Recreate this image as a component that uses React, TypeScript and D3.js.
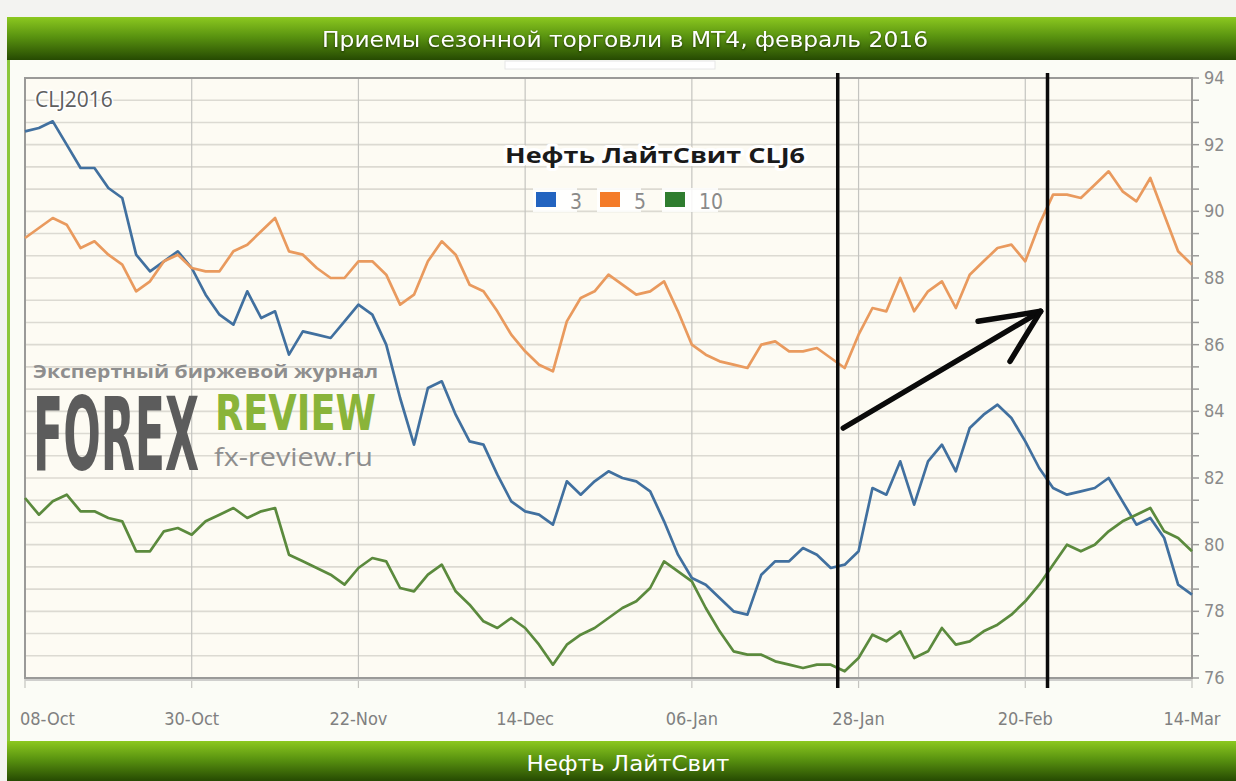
import React from 'react';
import * as d3 from 'd3';

// CLJ2016 seasonal pattern: 3, 5 and 10 year averages, one value per step
const xLabels = ['08-Oct', '30-Oct', '22-Nov', '14-Dec', '06-Jan', '28-Jan', '20-Feb', '14-Mar'];
const yTicks = [76, 78, 80, 82, 84, 86, 88, 90, 92, 94];
const seriesNames = ['3', '5', '10'];

const series3 = [
  92.4, 92.5, 92.7, 92.0, 91.3, 91.3, 90.7, 90.4, 88.7, 88.2, 88.5, 88.8,
  88.3, 87.5, 86.9, 86.6, 87.6, 86.8, 87.0, 85.7, 86.4, 86.3, 86.2, 86.7,
  87.2, 86.9, 86.0, 84.4, 83.0, 84.7, 84.9, 83.9, 83.1, 83.0, 82.1, 81.3,
  81.0, 80.9, 80.6, 81.9, 81.5, 81.9, 82.2, 82.0, 81.9, 81.6, 80.7, 79.7,
  79.0, 78.8, 78.4, 78.0, 77.9, 79.1, 79.5, 79.5, 79.9, 79.7, 79.3, 79.4,
  79.8, 81.7, 81.5, 82.5, 81.2, 82.5, 83.0, 82.2, 83.5, 83.9, 84.2, 83.8,
  83.1, 82.3, 81.7, 81.5, 81.6, 81.7, 82.0, 81.3, 80.6, 80.8, 80.2, 78.8,
  78.5,
];

const series5 = [
  89.2, 89.5, 89.8, 89.6, 88.9, 89.1, 88.7, 88.4, 87.6, 87.9, 88.5, 88.7,
  88.3, 88.2, 88.2, 88.8, 89.0, 89.4, 89.8, 88.8, 88.7, 88.3, 88.0, 88.0,
  88.5, 88.5, 88.1, 87.2, 87.5, 88.5, 89.1, 88.7, 87.8, 87.6, 87.0, 86.3,
  85.8, 85.4, 85.2, 86.7, 87.4, 87.6, 88.1, 87.8, 87.5, 87.6, 87.9, 87.0,
  86.0, 85.7, 85.5, 85.4, 85.3, 86.0, 86.1, 85.8, 85.8, 85.9, 85.6, 85.3,
  86.3, 87.1, 87.0, 88.0, 87.0, 87.6, 87.9, 87.1, 88.1, 88.5, 88.9, 89.0,
  88.5, 89.6, 90.5, 90.5, 90.4, 90.8, 91.2, 90.6, 90.3, 91.0, 89.9, 88.8,
  88.4,
];

const series10 = [
  81.4, 80.9, 81.3, 81.5, 81.0, 81.0, 80.8, 80.7, 79.8, 79.8, 80.4, 80.5,
  80.3, 80.7, 80.9, 81.1, 80.8, 81.0, 81.1, 79.7, 79.5, 79.3, 79.1, 78.8,
  79.3, 79.6, 79.5, 78.7, 78.6, 79.1, 79.4, 78.6, 78.2, 77.7, 77.5, 77.8,
  77.5, 77.0, 76.4, 77.0, 77.3, 77.5, 77.8, 78.1, 78.3, 78.7, 79.5, 79.2,
  78.9, 78.1, 77.4, 76.8, 76.7, 76.7, 76.5, 76.4, 76.3, 76.4, 76.4, 76.2,
  76.6, 77.3, 77.1, 77.4, 76.6, 76.8, 77.5, 77.0, 77.1, 77.4, 77.6, 77.9,
  78.3, 78.8, 79.4, 80.0, 79.8, 80.0, 80.4, 80.7, 80.9, 81.1, 80.4, 80.2,
  79.8,
];

// hand drawn marks, in data units (step index, price)
const markerSteps = [58.5, 73.6];
const markerSpan = [75.7, 94.15];
const arrowShaft = [[58.9, 83.5], [73.1, 87.0]];
const arrowHeadA = [[68.6, 86.7], [73.1, 87.0]];
const arrowHeadB = [[70.9, 85.5], [73.1, 87.0]];

const colors = ['#41709f', '#e99a5e', '#5b8a3d'];
const legendColors = ['#2364c0', '#f47c2a', '#2f7d2f'];

const W = 1236;
const H = 781;
const plot = { left: 25, right: 1192, top: 78, bottom: 678 };
const axisFont = "'DejaVu Sans Condensed', sans-serif";

const App = () => {
  const N = series3.length;
  const x = d3.scaleLinear().domain([0, N - 1]).range([plot.left, plot.right]);
  const y = d3.scaleLinear().domain([76, 94]).range([plot.bottom, plot.top]);
  const line = d3.line<number>().x((_, i) => x(i)).y(d => y(d));
  const seg = d3.line<number[]>().x(d => x(d[0])).y(d => y(d[1]));

  const step = (N - 1) / (xLabels.length - 1);
  const xTickIdx = xLabels.map((_, i) => i * step);
  const grid = d3.range(0, 28).map(k => 76 + (k * 2) / 3);
  const allSeries = [series3, series5, series10];

  const halo = { stroke: '#fff', strokeWidth: 5, paintOrder: 'stroke' as const, strokeLinejoin: 'round' as const };

  return (
    <div style={{ position: 'absolute', left: 0, top: 0 }}>
      <svg width={W} height={H} style={{ display: 'block' }}>
        <defs>
          <linearGradient id="bar" x1="0" y1="0" x2="0" y2="1">
            <stop offset="0%" stopColor="#8cc820" />
            <stop offset="45%" stopColor="#5a9410" />
            <stop offset="100%" stopColor="#264a02" />
          </linearGradient>
        </defs>
        <rect width={W} height={H} fill="#f3f3f1" />
        <rect x={7} y={17} width={W - 7} height={H - 17} fill="#fbfcf6" />
        <rect x={7} y={17} width={3} height={H - 17} fill="#8cc63c" />

        {/* header and footer */}
        <rect x={7} y={17} width={W - 7} height={43} fill="url(#bar)" />
        <text x={625} y={47} textAnchor="middle" fill="#fff" fontSize={22}
          fontFamily={axisFont}
          textLength={606} lengthAdjust="spacingAndGlyphs"
          style={{ filter: 'drop-shadow(0 1px 1px rgba(0,0,0,0.5))' }}>
          Приемы сезонной торговли в МТ4, февраль 2016
        </text>
        <rect x={7} y={741} width={W - 7} height={40} fill="url(#bar)" />
        <text x={628} y={771} textAnchor="middle" fill="#fff" fontSize={21}
          fontFamily={axisFont}
          textLength={203} lengthAdjust="spacingAndGlyphs">
          Нефть ЛайтСвит
        </text>
        <rect x={505} y={61} width={210} height={8} fill="#fff" stroke="#e6e6e6" />

        {/* plot area */}
        <rect x={plot.left} y={plot.top} width={plot.right - plot.left} height={plot.bottom - plot.top}
          fill="#fdfbf3" />
        {grid.map(v => (
          <line key={v} x1={plot.left} x2={plot.right} y1={y(v)} y2={y(v)} stroke="#dcdad2" strokeWidth={1.6} />
        ))}
        {xTickIdx.map(i => (
          <line key={i} x1={x(i)} x2={x(i)} y1={plot.top} y2={plot.bottom + 10} stroke="#c4c4c0" strokeWidth={1.2} />
        ))}
        <rect x={plot.left} y={plot.top} width={plot.right - plot.left} height={plot.bottom - plot.top}
          fill="none" stroke="#9a9a98" strokeWidth={2} />
        <line x1={plot.left} x2={plot.right} y1={plot.bottom + 2} y2={plot.bottom + 2} stroke="#cfcfcd" strokeWidth={2} />

        {/* right axis */}
        {grid.map(v => (
          <line key={'t' + v} x1={plot.right} x2={plot.right + 7} y1={y(v)} y2={y(v)} stroke="#9a9a98" strokeWidth={1.5} />
        ))}
        {yTicks.map(v => (
          <text key={v} x={plot.right + 12} y={y(v) + 6} fontSize={18} fill="#8a8a8a"
            fontFamily={axisFont}>{v}</text>
        ))}
        {xLabels.map((l, i) => (
          <text key={l} x={i === 0 ? x(xTickIdx[i]) - 5 : x(xTickIdx[i])} y={725}
            textAnchor={i === 0 ? 'start' : 'middle'} fontSize={18} fill="#808080"
            fontFamily={axisFont}>{l}</text>
        ))}

        {/* watermark */}
        <g>
          <text x={33} y={378} fontSize={18} fontWeight="bold" fill="#8e8e8e"
            fontFamily="'Open Sans', 'DejaVu Sans', sans-serif" textLength={345} lengthAdjust="spacingAndGlyphs">
            Экспертный биржевой журнал
          </text>
          <text x={33} y={470} fontSize={102} fontWeight="bold" fill="#5c5c5c"
            fontFamily={axisFont} textLength={166} lengthAdjust="spacingAndGlyphs">
            FOREX
          </text>
          <text x={215} y={430} fontSize={50} fontWeight="bold" fill="#8ab43a"
            fontFamily={axisFont} textLength={161} lengthAdjust="spacingAndGlyphs">
            REVIEW
          </text>
          <text x={214} y={466} fontSize={26} fill="#8e8e8e"
            fontFamily="'Open Sans', 'DejaVu Sans', sans-serif" textLength={159} lengthAdjust="spacingAndGlyphs">
            fx-review.ru
          </text>
        </g>

        <text x={35} y={107} fontSize={21} fill="#5e5e5e" {...halo} strokeWidth={3}
          fontFamily="'Open Sans', 'DejaVu Sans', sans-serif">CLJ2016</text>

        {/* series */}
        {allSeries.map((s, k) => (
          <path key={k} d={line(s) || ''} fill="none" stroke={colors[k]} strokeWidth={2.7}
            strokeLinejoin="round" />
        ))}

        {/* legend */}
        <text x={655} y={163} textAnchor="middle" fontSize={21} fontWeight="bold" fill="#1a1a1a"
          fontFamily="'Open Sans', 'DejaVu Sans', sans-serif" {...halo} strokeWidth={6}
          textLength={300} lengthAdjust="spacingAndGlyphs">
          Нефть ЛайтСвит CLJ6
        </text>
        {seriesNames.map((n, k) => {
          const lx = [536, 600, 665][k];
          return (
            <g key={n}>
              <rect x={lx - 3} y={188} width={n.length * 12 + 32} height={24} fill="#fff" opacity={0.85} />
              <rect x={lx} y={192} width={20} height={15} fill={legendColors[k]} />
              <text x={lx + 34} y={209} fontSize={21} fill="#8a8a8a"
                fontFamily={axisFont}>{n}</text>
            </g>
          );
        })}

        {/* hand drawn marks */}
        {markerSteps.map(m => (
          <path key={m} d={seg([[m, markerSpan[0]], [m, markerSpan[1]]]) || ''} stroke="#0a0a0a" strokeWidth={3.5} />
        ))}
        {[arrowShaft, arrowHeadA, arrowHeadB].map((a, i) => (
          <path key={i} d={seg(a) || ''} stroke="#0a0a0a" strokeWidth={5.5} strokeLinecap="round" />
        ))}
      </svg>
    </div>
  );
};

export default App;
